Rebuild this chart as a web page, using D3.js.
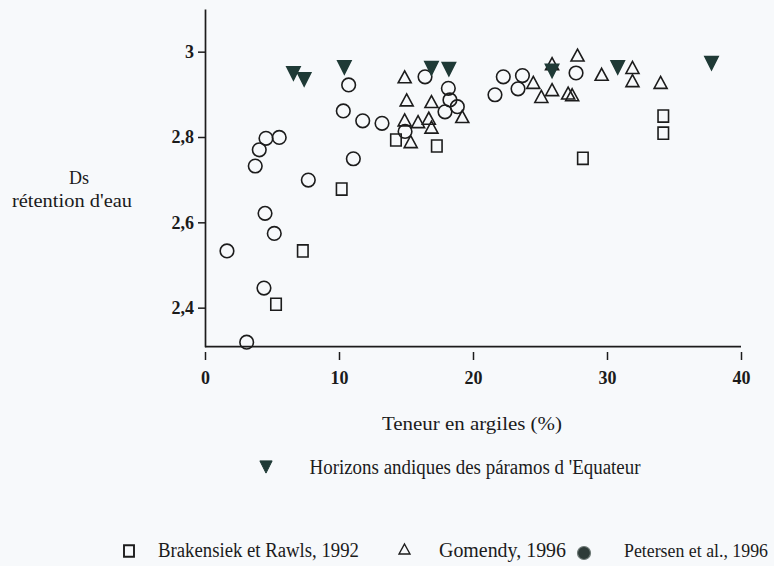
<!DOCTYPE html>
<html>
<head>
<meta charset="utf-8">
<script src="https://cdn.jsdelivr.net/npm/d3@7"></script>
<style>
  html, body { margin: 0; padding: 0; background: #f7f9fb; }
  svg { display: block; }
  text { font-family: "Liberation Serif", "Times New Roman", serif; fill: #1b1b1b; }
</style>
</head>
<body>
<svg id="chart" width="774" height="566"></svg>
<script>
// Clay content (%) and water-retention bulk density (Ds) for each data source
const andicX = [6.6, 7.4, 10.4, 16.9, 18.2, 25.9, 30.8, 37.8];
const andicY = [2.949, 2.935, 2.963, 2.961, 2.959, 2.955, 2.963, 2.973];

const brakX = [5.3, 7.3, 10.2, 14.25, 17.3, 28.2, 34.2, 34.2];
const brakY = [2.408, 2.533, 2.678, 2.793, 2.779, 2.750, 2.849, 2.809];

const gomX = [14.9, 15.05, 16.9, 19.2, 14.9, 15.9, 16.7, 16.9, 15.35, 24.5,
              25.1, 25.9, 25.9, 27.8, 27.1, 27.4, 29.6, 31.9, 31.9, 34.0];
const gomY = [2.941, 2.887, 2.883, 2.848, 2.840, 2.836, 2.844, 2.823, 2.789, 2.928,
              2.895, 2.972, 2.911, 2.992, 2.903, 2.899, 2.947, 2.963, 2.932, 2.928];

const petX = [1.64, 3.75, 4.05, 4.55, 5.54, 4.48, 5.17, 4.40, 3.11, 7.71, 10.32, 10.72, 11.07,
              11.77, 13.21, 14.93, 16.42, 18.16, 18.28, 18.83, 17.91, 21.64, 22.26, 23.36, 23.69, 27.69];
const petY = [2.533, 2.732, 2.770, 2.797, 2.799, 2.621, 2.574, 2.446, 2.319, 2.699, 2.861, 2.922, 2.749,
              2.838, 2.832, 2.813, 2.941, 2.914, 2.887, 2.871, 2.859, 2.899, 2.941, 2.913, 2.944, 2.950];

const xTicks = [0, 10, 20, 30, 40];
const yTicks = [2.4, 2.6, 2.8, 3];

const legendLabels = {
  andic: "Horizons andiques des páramos d 'Equateur",
  brak: "Brakensiek et Rawls, 1992",
  gom: "Gomendy, 1996",
  pet: "Petersen et al., 1996"
};

const svg = d3.select("#chart");
svg.append("rect").attr("width", 774).attr("height", 566).attr("fill", "#f7f9fb");

const x = d3.scaleLinear().domain([0, 40]).range([205, 741]);
const y = d3.scaleLinear().domain([2.3085, 3.1]).range([346.7, 9]);

const ink = "#1c1c1c";
const dark = "#1f3a36";

// Symbol shapes centred on their bounding box
const triUp = { draw(ctx, size) { const w = Math.sqrt(size), h = w * 0.92;
  ctx.moveTo(0, -h / 2); ctx.lineTo(w / 2, h / 2); ctx.lineTo(-w / 2, h / 2); ctx.closePath(); } };
const triDown = { draw(ctx, size) { const w = Math.sqrt(size), h = w;
  ctx.moveTo(-w / 2, -h / 2); ctx.lineTo(w / 2, -h / 2); ctx.lineTo(0, h / 2); ctx.closePath(); } };
const tallSquare = { draw(ctx, size) { const w = Math.sqrt(size), h = w * 1.15;
  ctx.rect(-w / 2, -h / 2, w, h); } };

// Axes
const yAxis = d3.axisLeft(y).tickValues(yTicks).tickSize(7).tickSizeOuter(0).tickPadding(4)
  .tickFormat(v => v === 3 ? "3" : d3.format(".1f")(v).replace(".", ","));
const gy = svg.append("g").attr("transform", "translate(205,0)").call(yAxis);
gy.select(".domain").attr("stroke", ink).attr("stroke-width", 1.7);
gy.selectAll(".tick line").attr("stroke", ink).attr("stroke-width", 1.5);
gy.selectAll(".tick text").attr("font-size", 18).attr("font-weight", "bold")
  .attr("font-family", "Liberation Serif, serif").attr("fill", "#1b1b1b");

const xAxis = d3.axisBottom(x).tickValues(xTicks).tickSize(8).tickSizeOuter(0).tickPadding(11);
const gx = svg.append("g").attr("transform", "translate(0,352)").call(xAxis);
gx.select(".domain").remove();
gx.selectAll(".tick line").attr("stroke", ink).attr("stroke-width", 1.5);
gx.selectAll(".tick text").attr("font-size", 18).attr("font-weight", "bold")
  .attr("font-family", "Liberation Serif, serif").attr("fill", "#1b1b1b");

svg.append("line").attr("x1", x(0)).attr("x2", x(40)).attr("y1", y.range()[0]).attr("y2", y.range()[0])
  .attr("stroke", ink).attr("stroke-width", 1.7);

// Axis titles
svg.append("text").attr("x", 79).attr("y", 184).attr("text-anchor", "middle")
  .attr("font-size", 18).text("Ds");
svg.append("text").attr("x", 72).attr("y", 207).attr("text-anchor", "middle")
  .attr("font-size", 18).attr("textLength", 120).attr("lengthAdjust", "spacingAndGlyphs")
  .text("rétention d'eau");
svg.append("text").attr("x", 472).attr("y", 430).attr("text-anchor", "middle")
  .attr("font-size", 19).attr("textLength", 180).attr("lengthAdjust", "spacingAndGlyphs")
  .text("Teneur en argiles (%)");

// Data marks
const plot = svg.append("g");
function series(xs, ys, type, size, fill) {
  plot.append("g").selectAll("path").data(xs.map((v, i) => [v, ys[i]])).join("path")
    .attr("transform", d => `translate(${x(d[0])},${y(d[1])})`)
    .attr("d", d3.symbol().type(type).size(size))
    .attr("fill", fill).attr("stroke", fill === "none" ? ink : dark).attr("stroke-width", 1.6);
}
series(petX, petY, d3.symbolCircle, Math.PI * 6.8 * 6.8, "none");
series(brakX, brakY, tallSquare, 110, "none");
series(gomX, gomY, triUp, 169, "none");
series(andicX, andicY, triDown, 176, dark);

// Legend
const leg = svg.append("g");
leg.append("path").attr("transform", "translate(266,467)")
  .attr("d", d3.symbol().type(triDown).size(150)).attr("fill", dark).attr("stroke", dark);
leg.append("text").attr("x", 309.5).attr("y", 474).attr("font-size", 20)
  .attr("textLength", 331).attr("lengthAdjust", "spacingAndGlyphs").text(legendLabels.andic);

leg.append("path").attr("transform", "translate(129,551)")
  .attr("d", d3.symbol().type(tallSquare).size(100)).attr("fill", "none")
  .attr("stroke", ink).attr("stroke-width", 1.9);
leg.append("text").attr("x", 158).attr("y", 557).attr("font-size", 20)
  .attr("textLength", 201).attr("lengthAdjust", "spacingAndGlyphs").text(legendLabels.brak);

leg.append("path").attr("transform", "translate(404.5,549)")
  .attr("d", d3.symbol().type(triUp).size(120)).attr("fill", "none")
  .attr("stroke", ink).attr("stroke-width", 1.4);
leg.append("text").attr("x", 439).attr("y", 557).attr("font-size", 20)
  .attr("textLength", 127).attr("lengthAdjust", "spacingAndGlyphs").text(legendLabels.gom);

leg.append("circle").attr("cx", 584).attr("cy", 553).attr("r", 6.5)
  .attr("fill", "#2e3b38").attr("stroke", "#6f7a77").attr("stroke-width", 1.2);
leg.append("text").attr("x", 624).attr("y", 557).attr("font-size", 18)
  .attr("textLength", 144).attr("lengthAdjust", "spacingAndGlyphs").text(legendLabels.pet);
</script>
</body>
</html>
